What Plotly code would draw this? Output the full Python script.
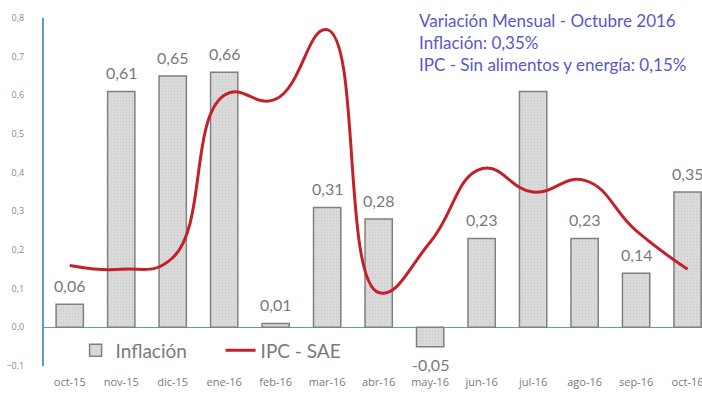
import plotly.graph_objects as go

meses = ["oct-15", "nov-15", "dic-15", "ene-16", "feb-16", "mar-16", "abr-16",
         "may-16", "jun-16", "jul-16", "ago-16", "sep-16", "oct-16"]
inflacion = [0.06, 0.61, 0.65, 0.66, 0.01, 0.31, 0.28, -0.05, 0.23, 0.61, 0.23, 0.14, 0.35]
ipc_sae = [0.16, 0.15, 0.18, 0.60, 0.59, 0.77, 0.09, 0.22, 0.41, 0.35, 0.38, 0.25, 0.15]
sin_etiqueta = ["jul-16"]

y_ticks = [-0.1, 0.0, 0.1, 0.2, 0.3, 0.4, 0.5, 0.6, 0.7, 0.8]

GRIS = "#808080"
AZUL_EJE = "#5b9bd5"
FUENTE = "Lato, Noto Sans, sans-serif"

fig = go.Figure()

fig.add_trace(
    go.Bar(
        x=meses,
        y=inflacion,
        name="Inflación",
        marker=dict(
            color="#d6d6d6",
            line=dict(color=GRIS, width=1.5),
            pattern=dict(shape=".", size=3, solidity=0.15, fgcolor="#bdbdbd", bgcolor="#dadada"),
        ),
    )
)

fig.add_trace(
    go.Scatter(
        x=meses,
        y=ipc_sae,
        name="IPC - SAE",
        mode="lines",
        line=dict(color="#c4202c", width=3, shape="spline", smoothing=1.3),
    )
)

# etiquetas de datos sobre (o bajo) cada barra
for mes, valor in zip(meses, inflacion):
    if mes in sin_etiqueta:
        continue
    fig.add_annotation(
        x=mes, y=valor,
        text=f"{valor:.2f}".replace(".", ","),
        showarrow=False,
        yshift=19 if valor >= 0 else -18,
        font=dict(size=16, color="#7a7a7a", family=FUENTE),
    )

fig.add_annotation(
    x=0.567, y=1.028, xref="paper", yref="paper",
    xanchor="left", yanchor="top", align="left",
    text="Variación Mensual - Octubre 2016<br>Inflación: 0,35%<br>IPC - Sin alimentos y energía: 0,15%",
    showarrow=False,
    font=dict(size=17, color="#5858c8", family=FUENTE),
)

fig.update_layout(
    width=702,
    height=394,
    margin=dict(l=44, r=0, t=18, b=28, autoexpand=False),
    plot_bgcolor="white",
    paper_bgcolor="white",
    separators=",.",
    bargap=0.47,
    showlegend=True,
    legend=dict(
        orientation="h",
        x=0.048, y=0.045, xanchor="left", yanchor="middle",
        entrywidth=100, entrywidthmode="pixels",
        font=dict(size=19, color="#7a7a7a", family=FUENTE),
        bgcolor="rgba(0,0,0,0)",
    ),
)

fig.update_xaxes(
    range=[-0.5, 12.28],
    showgrid=False,
    showline=False,
    ticks="",
    ticklabelstandoff=8,
    tickfont=dict(size=11, color="#7a7a7a"),
    automargin=False,
)
fig.update_yaxes(
    range=[-0.1, 0.8],
    tickvals=y_ticks,
    tickformat=".1f",
    showgrid=False,
    showline=True,
    linecolor=AZUL_EJE,
    linewidth=2,
    zeroline=True,
    zerolinecolor=AZUL_EJE,
    zerolinewidth=1,
    ticks="",
    ticklabelstandoff=16,
    tickfont=dict(size=9, color="#8a8a8a"),
    automargin=False,
)

fig.write_html(
    "out.html",
    config={"displayModeBar": False},
    post_script="document.body.style.margin='0';",
)
